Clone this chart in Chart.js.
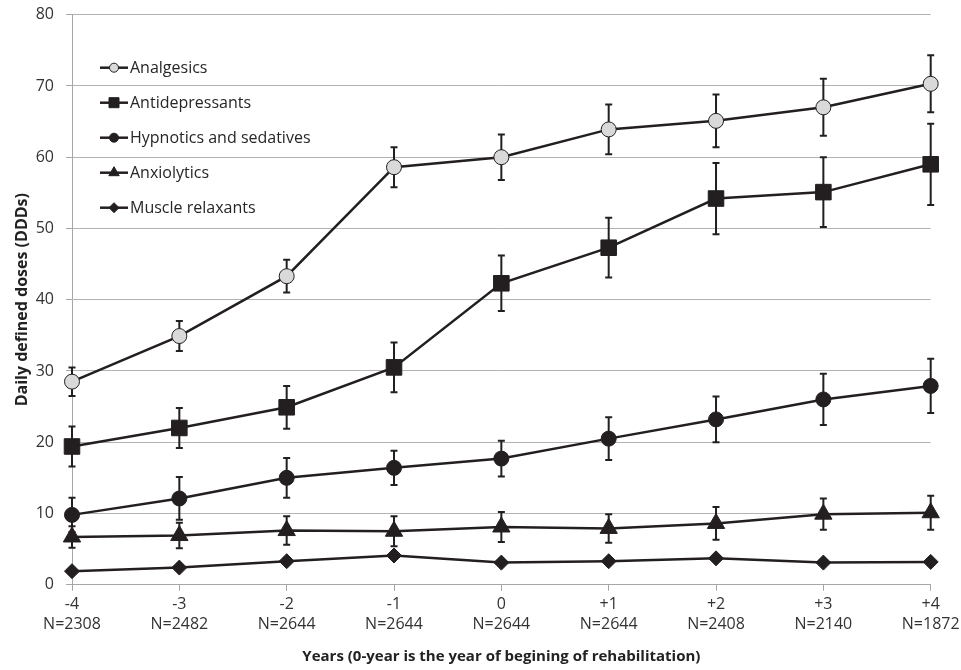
<!DOCTYPE html>
<html>
<head>
<meta charset="utf-8">
<script src="https://cdn.jsdelivr.net/npm/chart.js@4.4.1/dist/chart.umd.min.js"></script>
<style>
  html, body { margin: 0; padding: 0; background: #fff; }
  #wrap { width: 961px; height: 670px; }
</style>
</head>
<body>
<div id="wrap"><canvas id="grafica"></canvas></div>
<script>
// Years around the start of rehabilitation, with group size
const years = ["-4", "-3", "-2", "-1", "0", "+1", "+2", "+3", "+4"];
const nSizes = ["N=2308", "N=2482", "N=2644", "N=2644", "N=2644", "N=2644", "N=2408", "N=2140", "N=1872"];

// Mean DDDs per group and the error bar half-length
const analgesics = [28.5, 34.9, 43.3, 58.6, 60.0, 63.9, 65.1, 67.0, 70.3];
const analgesicsErr = [2.0, 2.1, 2.3, 2.8, 3.2, 3.5, 3.7, 4.0, 4.0];
const antidepressants = [19.4, 22.0, 24.9, 30.5, 42.3, 47.3, 54.2, 55.1, 59.0];
const antidepressantsErr = [2.8, 2.8, 3.0, 3.5, 3.9, 4.2, 5.0, 4.9, 5.7];
const hypnotics = [9.8, 12.1, 15.0, 16.4, 17.7, 20.5, 23.2, 26.0, 27.9];
const hypnoticsErr = [2.4, 3.0, 2.8, 2.4, 2.5, 3.0, 3.2, 3.6, 3.8];
const anxiolytics = [6.7, 6.9, 7.6, 7.5, 8.1, 7.9, 8.6, 9.9, 10.1];
const anxiolyticsErr = [1.5, 1.8, 2.0, 2.1, 2.1, 2.0, 2.3, 2.2, 2.4];
const muscleRelaxants = [1.9, 2.4, 3.3, 4.1, 3.1, 3.3, 3.7, 3.1, 3.2];

const yTicks = [0, 10, 20, 30, 40, 50, 60, 70, 80];

const negro = "#231f20";
const gris = "#d9d9d9";
const fuente = "'Open Sans', sans-serif";

function serie(label, data, errors, pointStyle, radius, fill) {
  return {
    label, data, errors,
    borderColor: negro,
    borderWidth: 2.5,
    pointStyle,
    pointRadius: radius,
    pointHoverRadius: radius,
    pointBackgroundColor: fill,
    pointBorderColor: negro,
    pointBorderWidth: 1,
    tension: 0
  };
}

const datasets = [
  serie("Analgesics", analgesics, analgesicsErr, "circle", 7.5, gris),
  serie("Antidepressants", antidepressants, antidepressantsErr, "rect", 11, negro),
  serie("Hypnotics and sedatives", hypnotics, hypnoticsErr, "circle", 7.5, negro),
  serie("Anxiolytics", anxiolytics, anxiolyticsErr, "triangle", 10, negro),
  serie("Muscle relaxants", muscleRelaxants, null, "rectRot", 7.5, negro)
];

// Barras de error (detrás de los marcadores)
const errorBars = {
  id: "errorBars",
  beforeDatasetsDraw(chart) {
    const { ctx, scales: { x, y } } = chart;
    ctx.save();
    ctx.strokeStyle = negro;
    ctx.lineWidth = 2;
    chart.data.datasets.forEach(ds => {
      if (!ds.errors) return;
      ds.data.forEach((v, j) => {
        const px = x.getPixelForValue(j);
        const top = y.getPixelForValue(v + ds.errors[j]);
        const bot = y.getPixelForValue(v - ds.errors[j]);
        ctx.beginPath();
        ctx.moveTo(px, top); ctx.lineTo(px, bot);
        ctx.moveTo(px - 3.5, top); ctx.lineTo(px + 3.5, top);
        ctx.moveTo(px - 3.5, bot); ctx.lineTo(px + 3.5, bot);
        ctx.stroke();
      });
    });
    ctx.restore();
  }
};

function marcador(ctx, style, x, y, r, fill) {
  ctx.beginPath();
  if (style === "circle") {
    ctx.arc(x, y, r, 0, Math.PI * 2);
  } else if (style === "rect") {
    ctx.rect(x - r, y - r, 2 * r, 2 * r);
  } else if (style === "triangle") {
    ctx.moveTo(x, y - r);
    ctx.lineTo(x + r * 0.87, y + r * 0.5);
    ctx.lineTo(x - r * 0.87, y + r * 0.5);
    ctx.closePath();
  } else {
    ctx.moveTo(x, y - r); ctx.lineTo(x + r, y);
    ctx.lineTo(x, y + r); ctx.lineTo(x - r, y);
    ctx.closePath();
  }
  ctx.fillStyle = fill;
  ctx.fill();
  ctx.lineWidth = 1;
  ctx.strokeStyle = negro;
  ctx.stroke();
}

// Leyenda vertical dentro del área
const leyenda = {
  id: "leyenda",
  afterDraw(chart) {
    const { ctx, chartArea } = chart;
    const x0 = chartArea.left + 28;
    let y0 = chartArea.top + 53;
    const tam = { circle: 4.5, rect: 5, triangle: 6, rectRot: 5 };
    ctx.save();
    chart.data.datasets.forEach(ds => {
      ctx.strokeStyle = negro;
      ctx.lineWidth = 2.5;
      ctx.beginPath();
      ctx.moveTo(x0, y0); ctx.lineTo(x0 + 28, y0);
      ctx.stroke();
      marcador(ctx, ds.pointStyle, x0 + 14, y0, tam[ds.pointStyle], ds.pointBackgroundColor);
      ctx.fillStyle = "#262626";
      ctx.font = "16px " + fuente;
      ctx.textBaseline = "middle";
      ctx.fillText(ds.label, x0 + 30, y0 + 1);
      y0 += 35;
    });
    ctx.restore();
  }
};

new Chart(document.getElementById("grafica"), {
  type: "line",
  data: {
    labels: years.map((a, i) => [a, nSizes[i]]),
    datasets
  },
  options: {
    responsive: true,
    maintainAspectRatio: false,
    animation: false,
    layout: { padding: { top: 14.7, right: 30.3, left: 0, bottom: 0 } },
    plugins: {
      legend: { display: false },
      tooltip: { enabled: false }
    },
    scales: {
      x: {
        offset: false,
        afterFit: s => { s.height = 85.3; s.paddingLeft = 0; s.paddingRight = 0; },
        grid: { drawOnChartArea: false, tickLength: 6, tickColor: "#a6a6a6" },
        border: { display: true, color: "#a6a6a6" },
        ticks: { color: "#333", font: { family: fuente, size: 16, lineHeight: 1.3 }, padding: 3, maxRotation: 0 },
        title: {
          display: true,
          text: "Years (0-year is the year of begining of rehabilitation)",
          color: "#222",
          font: { family: fuente, size: 15, weight: "bold" },
          padding: { top: 0, bottom: 4 }
        }
      },
      y: {
        min: 0, max: 80,
        afterFit: s => { s.width = 72; s.paddingTop = 0; s.paddingBottom = 0; },
        afterBuildTicks: s => { s.ticks = yTicks.map(v => ({ value: v })); },
        grid: { color: "#b3b3b3", tickLength: 6, tickColor: "#a6a6a6" },
        border: { display: true, color: "#a6a6a6" },
        ticks: { color: "#333", font: { family: fuente, size: 16 }, padding: 12 },
        title: {
          display: true,
          text: "Daily defined doses (DDDs)",
          color: "#222",
          font: { family: fuente, size: 16, weight: "bold" },
          padding: { top: 13, bottom: 0 }
        }
      }
    }
  },
  plugins: [errorBars, leyenda]
});
</script>
</body>
</html>
